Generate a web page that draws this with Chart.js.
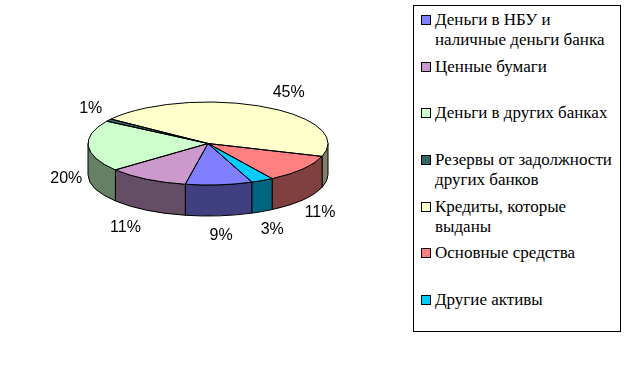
<!DOCTYPE html>
<html>
<head>
<meta charset="utf-8">
<script src="https://cdn.jsdelivr.net/npm/chart.js@4/dist/chart.umd.min.js"></script>
<style>
  body { margin: 0; background: #fff; }
  #wrap { position: relative; width: 634px; height: 378px; }
  #legenda {
    position: absolute; left: 413px; top: 5px; width: 208px; height: 327px;
    border: 1px solid #000; box-sizing: border-box; background: #fff;
    font-family: "Liberation Serif", "DejaVu Serif", serif; font-size: 17px; color: #000;
  }
  .item { position: absolute; left: 21px; line-height: 20px; white-space: nowrap; }
  .caixa { position: absolute; left: 7px; width: 8px; height: 8px; border: 1px solid #000; }
</style>
</head>
<body>
<div id="wrap">
  <canvas id="grafico" width="634" height="378"></canvas>
  <div id="legenda"></div>
</div>
<script>
// categorias (linhas da legenda)
const categorias = [
  ["Деньги в НБУ и", "наличные деньги банка"],
  ["Ценные бумаги"],
  ["Деньги в других банках"],
  ["Резервы от задолжности", "других банков"],
  ["Кредиты, которые", "выданы"],
  ["Основные средства"],
  ["Другие активы"]
]
const percentuais = [9, 11, 20, 1, 45, 11, 3]
const coresTopo   = ["#8080FF", "#CC99CC", "#CCFFCC", "#336666", "#FFFFCC", "#FF8080", "#00CCFF"]
const coresLado   = ["#404080", "#664D66", "#668066", "#1A3333", "#808066", "#804040", "#006680"]

const ACHATA = 41.5 / 120   // razão da elipse
const PROF   = 31           // espessura da pizza

function montarLegenda() {
  const leg = document.getElementById("legenda")
  categorias.forEach((linhas, i) => {
    const topo = 4 + i * 46.67
    const cx = document.createElement("div")
    cx.className = "caixa"
    cx.style.top = (topo + 5) + "px"
    cx.style.background = coresTopo[i]
    leg.appendChild(cx)
    const t = document.createElement("div")
    t.className = "item"
    t.style.top = topo + "px"
    t.innerHTML = linhas.join("<br>")
    leg.appendChild(t)
  })
}

const pizza3d = {
  id: "pizza3d",
  beforeDatasetsDraw(chart) {
    const ctx  = chart.ctx
    const arcs = chart.getDatasetMeta(0).data
    const { x: cx, y: cy, outerRadius: r } = arcs[0]
    const ry = r * ACHATA

    // paredes laterais (só a metade da frente aparece)
    arcs.forEach((a, i) => {
      let s = a.startAngle, e = a.endAngle
      const voltas = Math.floor(s / (2 * Math.PI))
      s -= voltas * 2 * Math.PI
      e -= voltas * 2 * Math.PI
      ;[[0, Math.PI], [2 * Math.PI, 3 * Math.PI]].forEach(([lo, hi]) => {
        const a1 = Math.max(s, lo), a2 = Math.min(e, hi)
        if (a2 <= a1) return
        ctx.beginPath()
        ctx.ellipse(cx, cy, r, ry, 0, a1, a2)
        ctx.ellipse(cx, cy + PROF, r, ry, 0, a2, a1, true)
        ctx.closePath()
        ctx.fillStyle = coresLado[i]
        ctx.fill()
        ctx.strokeStyle = "#000"
        ctx.lineWidth = 1
        ctx.stroke()
      })
    })

    ctx.save()
    ctx.translate(0, cy)
    ctx.scale(1, ACHATA)
    ctx.translate(0, -cy)
  },
  afterDatasetsDraw(chart) {
    const ctx = chart.ctx
    ctx.restore()

    const arcs = chart.getDatasetMeta(0).data
    const { x: cx, y: cy, outerRadius: r } = arcs[0]
    const ry = r * ACHATA

    // contornos do topo
    ctx.strokeStyle = "#000"
    ctx.lineWidth = 1
    arcs.forEach(a => {
      ctx.beginPath()
      ctx.moveTo(cx, cy)
      ctx.ellipse(cx, cy, r, ry, 0, a.startAngle, a.endAngle)
      ctx.closePath()
      ctx.stroke()
    })

    // rótulos de porcentagem
    ctx.fillStyle = "#000"
    ctx.font = '16px "Liberation Sans", Arial, sans-serif'
    ctx.textAlign = "center"
    ctx.textBaseline = "middle"
    arcs.forEach((a, i) => {
      const meio = (a.startAngle + a.endAngle) / 2
      const c = Math.cos(meio), s = Math.sin(meio)
      let x = cx + c * (r + 22)
      let y = cy + s * (ry + 20)
      if (s < -0.8) { x += 16; y += 4 }
      if (s > 0) y += PROF
      if (s > 0.8 && c < -0.3) x -= 10
      ctx.fillText(percentuais[i] + "%", x, y)
    })
  }
}

montarLegenda()

new Chart(document.getElementById("grafico").getContext("2d"), {
  type: "pie",
  data: {
    labels: categorias.map(l => l.join(" ")),
    datasets: [{
      data: percentuais,
      backgroundColor: coresTopo,
      borderWidth: 0
    }]
  },
  options: {
    responsive: false,
    animation: false,
    rotation: 158.5,
    layout: { padding: { left: 88, right: 306, top: 23.5, bottom: 114.5 } },
    plugins: { legend: { display: false }, tooltip: { enabled: false } }
  },
  plugins: [pizza3d]
})
</script>
</body>
</html>
